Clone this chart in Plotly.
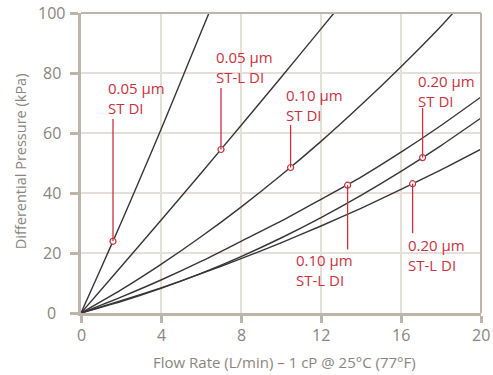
import plotly.graph_objects as go

# ---- data ----
x_005_st = [0, 1, 2, 3, 4, 5, 6, 6.4]
y_005_st = [0, 14.9, 30.0, 45.5, 61.2, 77.3, 93.6, 100]

x_005_stl = [0, 2, 4, 6, 8, 10, 12, 12.65]
y_005_stl = [0, 15.4, 30.9, 46.6, 62.5, 78.5, 94.7, 100]

x_010_st = [0, 2, 4, 6, 8, 10, 12, 14, 16, 18, 18.6]
y_010_st = [0, 7.7, 16.2, 25.4, 35.3, 45.9, 57.2, 69.3, 82.1, 95.6, 100]

x_010_stl = [0, 2, 4, 6, 8, 10, 12, 14, 16, 18, 20]
y_010_stl = [0, 5.3, 11.0, 17.2, 23.9, 30.6, 37.9, 45.3, 53.6, 62.5, 72.0]

x_020_st = [0, 2, 4, 6, 8, 10, 12, 14, 16, 18, 20]
y_020_st = [0, 3.8, 8.2, 13.2, 18.8, 25.0, 31.8, 39.2, 47.2, 55.8, 65.0]

x_020_stl = [0, 2, 4, 6, 8, 10, 12, 14, 16, 18, 20]
y_020_stl = [0, 4.1, 8.4, 13.1, 18.1, 23.4, 29.0, 34.9, 41.2, 47.7, 54.6]

label_text = ["0.05 µm<br>ST DI", "0.05 µm<br>ST-L DI", "0.10 µm<br>ST DI",
              "0.20 µm<br>ST DI", "0.10 µm<br>ST-L DI", "0.20 µm<br>ST-L DI"]
marker_x = [1.6, 7.0, 10.48, 17.08, 13.33, 16.58]
marker_y = [23.9, 54.5, 48.5, 51.8, 42.6, 43.1]
leader_end_y = [64.7, 75.0, 62.7, 68.3, 21.2, 26.6]
label_x = [1.27, 6.65, 10.15, 16.74, 10.65, 16.27]
label_mid_y = [71.8, 82.0, 69.5, 74.0, 14.3, 19.5]

x_ticks = [0, 4, 8, 12, 16, 20]
y_ticks = [0, 20, 40, 60, 80, 100]
x_tick_labels = ["0", "4", "8", "12", "16", "20"]
y_tick_labels = ["0", "20", "40", "60", "80", "100"]

RED = "#c8323f"
LINE = "#363636"
AXIS = "#bdb4ac"
GRID = "#e4dfd9"
TXT = "#8a8580"
FONT = "Open Sans"

fig = go.Figure()
for xs, ys in [(x_005_st, y_005_st), (x_005_stl, y_005_stl), (x_010_st, y_010_st),
               (x_010_stl, y_010_stl), (x_020_st, y_020_st), (x_020_stl, y_020_stl)]:
    fig.add_trace(go.Scatter(x=xs, y=ys, mode="lines",
                             line=dict(color=LINE, width=1.4, shape="spline", smoothing=0.6),
                             hoverinfo="skip", showlegend=False))

for mx, my, ly in zip(marker_x, marker_y, leader_end_y):
    fig.add_shape(type="line", xref="x", yref="y", x0=mx, x1=mx, y0=my, y1=ly,
                  line=dict(color=RED, width=1.3), layer="above")

# top and right frame (thinner than the left/bottom axes)
fig.add_shape(type="line", xref="paper", yref="paper", x0=0, x1=1, y0=1, y1=1,
              line=dict(color=AXIS, width=2), layer="above")
fig.add_shape(type="line", xref="paper", yref="paper", x0=1, x1=1, y0=0, y1=1,
              line=dict(color=AXIS, width=2), layer="above")

fig.add_trace(go.Scatter(x=marker_x, y=marker_y, mode="markers",
                         marker=dict(symbol="circle", size=6, color="white",
                                     line=dict(color=RED, width=1.2)),
                         hoverinfo="skip", showlegend=False, cliponaxis=False))

annotations = []
for t, lx, ly in zip(label_text, label_x, label_mid_y):
    annotations.append(dict(x=lx, y=ly, xref="x", yref="y", text=t, showarrow=False,
                            xanchor="left", yanchor="middle", align="left",
                            font=dict(family=FONT, size=15, color=RED)))
for v, t in zip(y_ticks, y_tick_labels):
    annotations.append(dict(x=-0.07375, y=v, xref="paper", yref="y", text=t, showarrow=False,
                            xanchor="center", yanchor="middle",
                            font=dict(family=FONT, size=16, color=TXT)))
for v, t in zip(x_ticks, x_tick_labels):
    annotations.append(dict(x=v, y=-0.0733, xref="x", yref="paper", text=t, showarrow=False,
                            xanchor="center", yanchor="middle",
                            font=dict(family=FONT, size=16, color=TXT)))
annotations.append(dict(x=-0.1525, y=0.506, xref="paper", yref="paper",
                        text="Differential Pressure (kPa)", textangle=-90, showarrow=False,
                        xanchor="center", yanchor="middle",
                        font=dict(family=FONT, size=14.5, color=TXT)))
annotations.append(dict(x=0.5075, y=-0.163, xref="paper", yref="paper",
                        text="Flow Rate (L/min) – 1 cP @ 25°C (77°F)", showarrow=False,
                        xanchor="center", yanchor="middle",
                        font=dict(family=FONT, size=15, color=TXT)))

fig.update_layout(
    width=493, height=375,
    margin=dict(l=81, r=12, t=13, b=62),
    paper_bgcolor="white", plot_bgcolor="white",
    annotations=annotations,
    xaxis=dict(range=[0, 20], tickvals=x_ticks, showticklabels=False,
               showgrid=True, gridcolor=GRID, gridwidth=1.5, zeroline=False,
               showline=True, linecolor=AXIS, linewidth=3,
               ticks="outside", ticklen=7, tickwidth=2.5, tickcolor=AXIS),
    yaxis=dict(range=[0, 100], tickvals=y_ticks, showticklabels=False,
               showgrid=True, gridcolor=GRID, gridwidth=1.5, zeroline=False,
               showline=True, linecolor=AXIS, linewidth=3,
               ticks="outside", ticklen=8, tickwidth=2.5, tickcolor=AXIS),
)

fig.write_html("out.html", config={"displayModeBar": False},
               post_script="document.body.style.margin='0';document.body.style.overflow='hidden';")
